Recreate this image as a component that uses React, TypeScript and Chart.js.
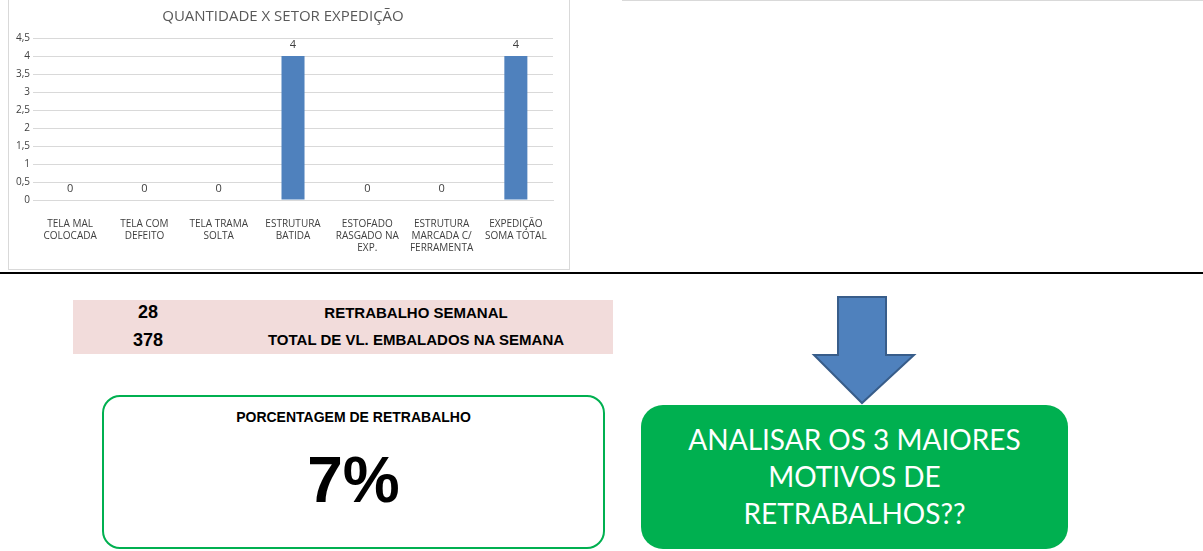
import React, { useEffect, useRef } from "react";
import { Chart, registerables } from "chart.js";
Chart.register(...registerables);

const categories = [
  ["TELA MAL", "COLOCADA"],
  ["TELA COM", "DEFEITO"],
  ["TELA TRAMA", "SOLTA"],
  ["ESTRUTURA", "BATIDA"],
  ["ESTOFADO", "RASGADO NA", "EXP."],
  ["ESTRUTURA", "MARCADA C/", "FERRAMENTA"],
  ["EXPEDIÇÃO", "SOMA TOTAL"],
];
const values = [0, 0, 0, 4, 0, 0, 4];
const yTicks = ["0", "0,5", "1", "1,5", "2", "2,5", "3", "3,5", "4", "4,5"];

const FONT = "'Open Sans', 'Liberation Sans', sans-serif";

const labelPlugin = {
  id: "vals",
  afterDatasetsDraw(chart: any) {
    const ctx = chart.ctx;
    const meta = chart.getDatasetMeta(0);
    ctx.save();
    ctx.font = `11px ${FONT}`;
    ctx.fillStyle = "#404040";
    ctx.textAlign = "center";
    ctx.textBaseline = "bottom";
    meta.data.forEach((bar: any, i: number) => {
      ctx.fillText(String(values[i]), bar.x, bar.y - 6);
    });
    ctx.restore();
  },
};

export default function App() {
  const ref = useRef<HTMLCanvasElement>(null);
  useEffect(() => {
    const c = new Chart(ref.current!, {
      type: "bar",
      data: {
        labels: categories,
        datasets: [{ data: values, backgroundColor: "#4f81bd", categoryPercentage: 0.5, barPercentage: 0.62 }],
      },
      options: {
        animation: false,
        responsive: false,
        layout: { padding: { left: 4, right: 16, top: 0, bottom: 4 } },
        plugins: {
          legend: { display: false },
          tooltip: { enabled: false },
          title: { display: true, text: "QUANTIDADE X SETOR EXPEDIÇÃO", color: "#595959", font: { family: FONT, size: 15, weight: "normal" }, padding: { top: 8, bottom: 12 } },
        },
        scales: {
          y: {
            min: 0, max: 4.5,
            ticks: { stepSize: 0.5, color: "#404040", font: { family: FONT, size: 10 }, callback: (_v: any, i: number) => yTicks[i] },
            grid: { color: "#d9d9d9", drawTicks: false },
            border: { display: false },
          },
          x: {
            grid: { display: false },
            border: { color: "#d9d9d9" },
            ticks: { color: "#404040", font: { family: FONT, size: 10 }, maxRotation: 0, autoSkip: false, padding: 10 },
          },
        },
      },
      plugins: [labelPlugin],
    });
    return () => c.destroy();
  }, []);

  const abs = (s: React.CSSProperties): React.CSSProperties => ({ position: "absolute", ...s });
  const arial = "'Liberation Sans', Arial, sans-serif";
  return (
    <div style={{ position: "absolute", left: 0, top: 0, width: 1203, height: 551, background: "#fff", overflow: "hidden", fontFamily: arial }}>
      <div style={abs({ left: 8, top: -1, width: 562, height: 271, border: "1px solid #d9d9d9", boxSizing: "border-box" })}>
        <canvas ref={ref} width={560} height={268} style={{ display: "block" }} />
      </div>
      <div style={abs({ left: 622, top: 0, width: 581, height: 1, background: "#d9d9d9" })} />
      <div style={abs({ left: 0, top: 272, width: 1203, height: 2, background: "#000" })} />
      <div style={abs({ left: 73, top: 300, width: 540, height: 54, background: "#f2dcdb" })} />
      <div style={abs({ left: 108, top: 302, width: 80, fontSize: 18, fontWeight: "bold", textAlign: "center" })}>28</div>
      <div style={abs({ left: 108, top: 330, width: 80, fontSize: 18, fontWeight: "bold", textAlign: "center" })}>378</div>
      <div style={abs({ left: 230, top: 304, width: 372, fontSize: 15, fontWeight: "bold", textAlign: "center" })}>RETRABALHO SEMANAL</div>
      <div style={abs({ left: 230, top: 331, width: 372, fontSize: 15, fontWeight: "bold", textAlign: "center" })}>TOTAL DE VL. EMBALADOS NA SEMANA</div>
      <div style={abs({ left: 102, top: 395, width: 503, height: 154, border: "2px solid #00b050", borderRadius: 18, boxSizing: "border-box" })}>
        <div style={{ textAlign: "center", marginTop: 12, fontSize: 14, fontWeight: "bold" }}>PORCENTAGEM DE RETRABALHO</div>
        <div style={{ textAlign: "center", marginTop: 20, fontSize: 64, fontWeight: "bold", lineHeight: "70px" }}>7%</div>
      </div>
      <svg style={abs({ left: 810, top: 295 })} width={110} height={112}>
        <polygon points="28,2 76,2 76,60 104,60 52,108 4,60 28,60" fill="#4f81bd" stroke="#385d8a" strokeWidth={2} />
      </svg>
      <div style={abs({ left: 641, top: 405, width: 427, height: 144, background: "#00b050", borderRadius: 22, color: "#fff", fontFamily: "Lato, 'Open Sans', sans-serif", fontSize: 28, textAlign: "center", lineHeight: "37px", paddingTop: 16, boxSizing: "border-box" })}>
        ANALISAR OS 3 MAIORES<br />MOTIVOS DE<br />RETRABALHOS??
      </div>
    </div>
  );
}
